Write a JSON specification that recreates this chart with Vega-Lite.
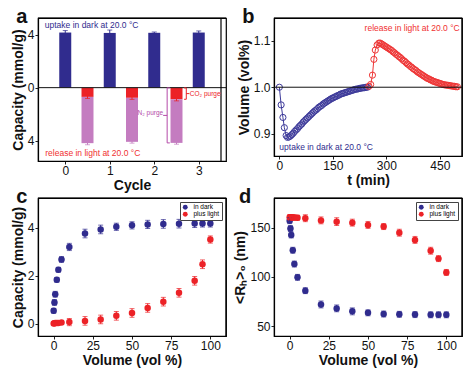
{
"$schema": "https://vega.github.io/schema/vega-lite/v6.json",
"background": "white",
"padding": {"left": 10, "top": 6, "right": 2, "bottom": 2},
"config": {
  "font": "Liberation Sans",
  "view": {"stroke": "#000", "strokeWidth": 1.2},
  "axis": {"grid": false, "domainColor": "#000", "domainWidth": 1.2, "tickColor": "#222", "tickSize": 3, "labelFontSize": 12, "labelColor": "#111", "titleFontSize": 14, "titleFontWeight": "bold", "titleColor": "#111", "labelPadding": 1, "titlePadding": 2},
  "title": {"fontSize": 20, "fontWeight": "bold", "anchor": "start", "frame": "bounds", "offset": -10, "baseline": "alphabetic", "dx": 5, "color": "#111"}
},
"datasets": {
  "one": [{}],
  "a_up": [
    {"cycle": 0, "cap": 4.17, "err": 0.15},
    {"cycle": 1, "cap": 4.14, "err": 0.22},
    {"cycle": 2, "cap": 4.15, "err": 0.06},
    {"cycle": 3, "cap": 4.17, "err": 0.12}
  ],
  "a_rel": [
    {"cycle": 0.5, "part": "CO2", "from": 0, "to": -0.7, "err": 0.12},
    {"cycle": 0.5, "part": "N2", "from": -0.7, "to": -4.2, "err": 0.12},
    {"cycle": 1.5, "part": "CO2", "from": 0, "to": -0.77, "err": 0.12},
    {"cycle": 1.5, "part": "N2", "from": -0.77, "to": -4.1, "err": 0.1},
    {"cycle": 2.5, "part": "CO2", "from": 0, "to": -0.88, "err": 0.12},
    {"cycle": 2.5, "part": "N2", "from": -0.88, "to": -4.18, "err": 0.1}
  ],
  "b": [
    {"s":"dark","t":0,"v":1.000},{"s":"dark","t":5,"v":0.962},{"s":"dark","t":10,"v":0.935},{"s":"dark","t":14,"v":0.913},{"s":"dark","t":19,"v":0.896},{"s":"dark","t":23,"v":0.892},{"s":"dark","t":27,"v":0.893},{"s":"dark","t":31,"v":0.895},{"s":"dark","t":35,"v":0.898},{"s":"dark","t":39,"v":0.901},{"s":"dark","t":43,"v":0.905},{"s":"dark","t":47,"v":0.908},{"s":"dark","t":51,"v":0.911},{"s":"dark","t":55,"v":0.915},{"s":"dark","t":59,"v":0.918},{"s":"dark","t":63,"v":0.921},{"s":"dark","t":67,"v":0.925},{"s":"dark","t":71,"v":0.928},{"s":"dark","t":75,"v":0.931},{"s":"dark","t":79,"v":0.934},{"s":"dark","t":83,"v":0.937},{"s":"dark","t":87,"v":0.940},{"s":"dark","t":91,"v":0.943},{"s":"dark","t":95,"v":0.946},{"s":"dark","t":99,"v":0.949},{"s":"dark","t":103,"v":0.951},{"s":"dark","t":107,"v":0.954},{"s":"dark","t":111,"v":0.957},{"s":"dark","t":115,"v":0.959},{"s":"dark","t":119,"v":0.961},{"s":"dark","t":123,"v":0.964},{"s":"dark","t":127,"v":0.966},{"s":"dark","t":131,"v":0.968},{"s":"dark","t":135,"v":0.970},{"s":"dark","t":139,"v":0.972},{"s":"dark","t":143,"v":0.974},{"s":"dark","t":147,"v":0.976},{"s":"dark","t":151,"v":0.977},{"s":"dark","t":155,"v":0.979},{"s":"dark","t":159,"v":0.980},{"s":"dark","t":163,"v":0.982},{"s":"dark","t":167,"v":0.983},{"s":"dark","t":171,"v":0.985},{"s":"dark","t":175,"v":0.986},{"s":"dark","t":179,"v":0.987},{"s":"dark","t":183,"v":0.988},{"s":"dark","t":187,"v":0.989},{"s":"dark","t":191,"v":0.990},{"s":"dark","t":195,"v":0.991},{"s":"dark","t":199,"v":0.992},{"s":"dark","t":203,"v":0.993},{"s":"dark","t":207,"v":0.994},{"s":"dark","t":211,"v":0.995},{"s":"dark","t":215,"v":0.996},{"s":"dark","t":219,"v":0.996},{"s":"dark","t":223,"v":0.997},{"s":"dark","t":227,"v":0.998},{"s":"dark","t":231,"v":0.998},{"s":"dark","t":235,"v":0.999},{"s":"dark","t":239,"v":0.999},{"s":"dark","t":243,"v":1.000},{"s":"dark","t":247,"v":1.000},
    {"s":"light","t":251,"v":1.002},{"s":"light","t":256,"v":1.006},{"s":"light","t":261,"v":1.026},{"s":"light","t":265,"v":1.060},{"s":"light","t":269,"v":1.080},{"s":"light","t":274,"v":1.091},{"s":"light","t":279,"v":1.095},{"s":"light","t":283,"v":1.095},{"s":"light","t":287,"v":1.093},{"s":"light","t":291,"v":1.091},{"s":"light","t":295,"v":1.089},{"s":"light","t":299,"v":1.087},{"s":"light","t":303,"v":1.085},{"s":"light","t":307,"v":1.083},{"s":"light","t":311,"v":1.081},{"s":"light","t":315,"v":1.079},{"s":"light","t":319,"v":1.076},{"s":"light","t":323,"v":1.074},{"s":"light","t":327,"v":1.071},{"s":"light","t":331,"v":1.069},{"s":"light","t":335,"v":1.066},{"s":"light","t":339,"v":1.064},{"s":"light","t":343,"v":1.061},{"s":"light","t":347,"v":1.058},{"s":"light","t":351,"v":1.056},{"s":"light","t":355,"v":1.053},{"s":"light","t":359,"v":1.050},{"s":"light","t":363,"v":1.048},{"s":"light","t":367,"v":1.045},{"s":"light","t":371,"v":1.043},{"s":"light","t":375,"v":1.040},{"s":"light","t":379,"v":1.038},{"s":"light","t":383,"v":1.036},{"s":"light","t":387,"v":1.033},{"s":"light","t":391,"v":1.031},{"s":"light","t":395,"v":1.029},{"s":"light","t":399,"v":1.027},{"s":"light","t":403,"v":1.025},{"s":"light","t":407,"v":1.023},{"s":"light","t":411,"v":1.021},{"s":"light","t":415,"v":1.019},{"s":"light","t":419,"v":1.018},{"s":"light","t":423,"v":1.016},{"s":"light","t":427,"v":1.015},{"s":"light","t":431,"v":1.013},{"s":"light","t":435,"v":1.012},{"s":"light","t":439,"v":1.011},{"s":"light","t":443,"v":1.010},{"s":"light","t":447,"v":1.009},{"s":"light","t":451,"v":1.008},{"s":"light","t":455,"v":1.007},{"s":"light","t":459,"v":1.006},{"s":"light","t":463,"v":1.005},{"s":"light","t":467,"v":1.005},{"s":"light","t":471,"v":1.004},{"s":"light","t":475,"v":1.004},{"s":"light","t":479,"v":1.003},{"s":"light","t":483,"v":1.003},{"s":"light","t":487,"v":1.002},{"s":"light","t":491,"v":1.002},{"s":"light","t":495,"v":1.001},{"s":"light","t":499,"v":1.001}
  ],
  "c": [
    {"s":"in dark","x":0,"y":0.53,"e":0.1},{"s":"in dark","x":0.5,"y":0.88,"e":0.12},{"s":"in dark","x":1,"y":1.22,"e":0.12},{"s":"in dark","x":2,"y":1.82,"e":0.1},{"s":"in dark","x":3,"y":2.24,"e":0.1},{"s":"in dark","x":5,"y":2.67,"e":0.12},{"s":"in dark","x":10,"y":3.19,"e":0.15},{"s":"in dark","x":20,"y":3.75,"e":0.18},{"s":"in dark","x":30,"y":3.92,"e":0.18},{"s":"in dark","x":40,"y":4.03,"e":0.15},{"s":"in dark","x":50,"y":4.09,"e":0.15},{"s":"in dark","x":60,"y":4.13,"e":0.17},{"s":"in dark","x":70,"y":4.15,"e":0.18},{"s":"in dark","x":80,"y":4.16,"e":0.18},{"s":"in dark","x":90,"y":4.17,"e":0.17},{"s":"in dark","x":95,"y":4.17,"e":0.15},{"s":"in dark","x":100,"y":4.17,"e":0.15},
    {"s":"plus light","x":0,"y":0.0,"e":0.05},{"s":"plus light","x":0.5,"y":0.01,"e":0.06},{"s":"plus light","x":1,"y":0.02,"e":0.06},{"s":"plus light","x":2,"y":0.02,"e":0.06},{"s":"plus light","x":3,"y":0.02,"e":0.06},{"s":"plus light","x":5,"y":0.04,"e":0.08},{"s":"plus light","x":10,"y":0.06,"e":0.15},{"s":"plus light","x":20,"y":0.11,"e":0.18},{"s":"plus light","x":30,"y":0.17,"e":0.18},{"s":"plus light","x":40,"y":0.32,"e":0.18},{"s":"plus light","x":50,"y":0.44,"e":0.18},{"s":"plus light","x":60,"y":0.65,"e":0.18},{"s":"plus light","x":70,"y":0.91,"e":0.18},{"s":"plus light","x":80,"y":1.28,"e":0.18},{"s":"plus light","x":90,"y":1.78,"e":0.18},{"s":"plus light","x":95,"y":2.47,"e":0.18},{"s":"plus light","x":100,"y":3.5,"e":0.15}
  ],
  "d": [
    {"s":"in dark","x":0,"y":157,"e":3},{"s":"in dark","x":0.5,"y":149,"e":3},{"s":"in dark","x":1,"y":142.5,"e":3},{"s":"in dark","x":2,"y":127,"e":3},{"s":"in dark","x":3,"y":113,"e":3},{"s":"in dark","x":5,"y":99.5,"e":3},{"s":"in dark","x":10,"y":86,"e":3},{"s":"in dark","x":20,"y":72,"e":3.5},{"s":"in dark","x":30,"y":68,"e":3.5},{"s":"in dark","x":40,"y":65,"e":3.5},{"s":"in dark","x":50,"y":63.5,"e":3},{"s":"in dark","x":60,"y":62.3,"e":3},{"s":"in dark","x":70,"y":62,"e":3},{"s":"in dark","x":80,"y":61.7,"e":3},{"s":"in dark","x":90,"y":61.5,"e":3},{"s":"in dark","x":95,"y":61.5,"e":3},{"s":"in dark","x":100,"y":61.5,"e":3},
    {"s":"plus light","x":0,"y":160.5,"e":2.5},{"s":"plus light","x":0.5,"y":160.5,"e":2.5},{"s":"plus light","x":1,"y":160.5,"e":2.5},{"s":"plus light","x":2,"y":160.3,"e":2.5},{"s":"plus light","x":3,"y":160.2,"e":2.5},{"s":"plus light","x":5,"y":160,"e":2.5},{"s":"plus light","x":10,"y":159.5,"e":3.5},{"s":"plus light","x":20,"y":157.3,"e":3.5},{"s":"plus light","x":30,"y":156,"e":4},{"s":"plus light","x":40,"y":155,"e":3.5},{"s":"plus light","x":50,"y":152.7,"e":3.5},{"s":"plus light","x":60,"y":151,"e":3},{"s":"plus light","x":70,"y":144.8,"e":3.5},{"s":"plus light","x":80,"y":137.5,"e":3.5},{"s":"plus light","x":90,"y":126.5,"e":3.5},{"s":"plus light","x":95,"y":118.5,"e":3},{"s":"plus light","x":100,"y":104.5,"e":3}
  ]
},
"columns": 2,
"bounds": "flush",
"spacing": {"row": 37, "column": 48},
"resolve": {"scale": {"color": "independent"}, "legend": {"color": "independent"}},
"concat": [
  {
    "width": 188, "height": 143,
    "title": {"text": "a"},
    "layer": [
      {"data": {"name": "a_up"}, "mark": {"type": "bar", "size": 12, "color": "#302c8e"},
       "encoding": {
         "x": {"field": "cycle", "type": "quantitative", "title": "Cycle", "scale": {"domain": [-0.5, 3.5], "nice": false, "zero": false},
               "axis": {"values": [0, 0.5, 1, 1.5, 2, 2.5, 3], "format": "d", "labelExpr": "datum.value % 1 === 0 ? datum.label : ''"}},
         "y": {"field": "cap", "type": "quantitative", "title": "Capacity  (mmol/g)", "scale": {"domain": [-5.55, 5.27], "nice": false, "zero": false},
               "axis": {"values": [-4, -2, 0, 2, 4], "labelExpr": "abs(datum.value)"}}
       }},
      {"data": {"name": "a_up"}, "mark": {"type": "errorbar", "ticks": {"size": 5}, "thickness": 1, "color": "#302c8e"},
       "encoding": {"x": {"field": "cycle", "type": "quantitative", "title": "Cycle"}, "y": {"field": "cap", "type": "quantitative", "title": "Capacity  (mmol/g)"}, "yError": {"field": "err"}}},
      {"data": {"name": "a_rel"}, "mark": {"type": "bar", "size": 12},
       "encoding": {
         "x": {"field": "cycle", "type": "quantitative", "title": "Cycle"},
         "y": {"field": "from", "type": "quantitative", "title": "Capacity  (mmol/g)"}, "y2": {"field": "to"},
         "color": {"field": "part", "type": "nominal", "scale": {"domain": ["CO2", "N2"], "range": ["#ec2227", "#c47cc0"]}, "legend": null}
       }},
      {"data": {"name": "a_rel"}, "mark": {"type": "errorbar", "ticks": {"size": 5}, "thickness": 1},
       "encoding": {"x": {"field": "cycle", "type": "quantitative", "title": "Cycle"}, "y": {"field": "to", "type": "quantitative", "title": "Capacity  (mmol/g)"}, "yError": {"field": "err"},
         "color": {"field": "part", "type": "nominal", "legend": null}}},
      {"data": {"name": "one"}, "mark": {"type": "rule", "color": "#111", "strokeWidth": 1}, "encoding": {"y": {"datum": 0}}},
      {"data": {"name": "one"}, "mark": {"type": "rule", "color": "#000", "strokeWidth": 1.2}, "encoding": {"y": {"datum": 5.27}}},
      {"data": {"name": "one"}, "mark": {"type": "rule", "color": "#000", "strokeWidth": 1.2}, "encoding": {"x": {"datum": 3.5}}},
      {"data": {"name": "one"}, "mark": {"type": "rule", "color": "#b44aa8", "strokeWidth": 1}, "encoding": {"x": {"datum": 2.29}, "y": {"datum": 0}, "y2": {"datum": -4.18}}},
      {"data": {"name": "one"}, "mark": {"type": "rule", "color": "#b44aa8", "strokeWidth": 1}, "encoding": {"x": {"datum": 2.29}, "x2": {"datum": 2.35}, "y": {"datum": -0.02}}},
      {"data": {"name": "one"}, "mark": {"type": "rule", "color": "#b44aa8", "strokeWidth": 1}, "encoding": {"x": {"datum": 2.29}, "x2": {"datum": 2.35}, "y": {"datum": -4.18}}},
      {"data": {"name": "one"}, "mark": {"type": "rule", "color": "#b44aa8", "strokeWidth": 1}, "encoding": {"x": {"datum": 2.2}, "x2": {"datum": 2.29}, "y": {"datum": -2.1}}},
      {"data": {"name": "one"}, "mark": {"type": "rule", "color": "#ec2227", "strokeWidth": 1}, "encoding": {"x": {"datum": 2.72}, "y": {"datum": -0.02}, "y2": {"datum": -0.88}}},
      {"data": {"name": "one"}, "mark": {"type": "rule", "color": "#ec2227", "strokeWidth": 1}, "encoding": {"x": {"datum": 2.67}, "x2": {"datum": 2.72}, "y": {"datum": -0.02}}},
      {"data": {"name": "one"}, "mark": {"type": "rule", "color": "#ec2227", "strokeWidth": 1}, "encoding": {"x": {"datum": 2.67}, "x2": {"datum": 2.72}, "y": {"datum": -0.88}}},
      {"data": {"name": "one"}, "mark": {"type": "rule", "color": "#ec2227", "strokeWidth": 1}, "encoding": {"x": {"datum": 2.72}, "x2": {"datum": 2.79}, "y": {"datum": -0.45}}},
      {"data": {"name": "one"}, "mark": {"type": "text", "align": "left", "baseline": "middle", "fontSize": 6.5, "color": "#ec2227"}, "encoding": {"x": {"datum": 2.8}, "y": {"datum": -0.45}, "text": {"value": "CO₂ purge"}}},
      {"data": {"name": "one"}, "mark": {"type": "text", "align": "right", "baseline": "middle", "fontSize": 6.5, "color": "#b44aa8"}, "encoding": {"x": {"datum": 2.2}, "y": {"datum": -1.95}, "text": {"value": "N₂ purge"}}},
      {"data": {"name": "one"}, "mark": {"type": "text", "align": "left", "baseline": "middle", "fontSize": 8.5, "color": "#302c8e"}, "encoding": {"x": {"datum": -0.46}, "y": {"datum": 4.73}, "text": {"value": "uptake in dark at 20.0 °C"}}},
      {"data": {"name": "one"}, "mark": {"type": "text", "align": "left", "baseline": "middle", "fontSize": 8.5, "color": "#f03030"}, "encoding": {"x": {"datum": -0.45}, "y": {"datum": -4.95}, "text": {"value": "release in light at 20.0 °C"}}}
    ]
  },
  {
    "width": 188, "height": 138,
    "title": {"text": "b"},
    "layer": [
      {"data": {"name": "b"}, "mark": {"type": "line", "strokeWidth": 1, "point": {"filled": false, "size": 38, "strokeWidth": 1}},
       "encoding": {
         "x": {"field": "t", "type": "quantitative", "title": "t  (min)", "scale": {"domain": [-15, 512], "nice": false, "zero": false},
               "axis": {"values": [0, 75, 150, 225, 300, 375, 450], "format": "d", "labelExpr": "datum.value % 150 === 0 ? datum.label : ''"}},
         "y": {"field": "v", "type": "quantitative", "title": "Volume  (vol%)", "scale": {"domain": [0.852, 1.149], "nice": false, "zero": false},
               "axis": {"values": [0.9, 1.0, 1.1], "format": ".1f"}},
         "color": {"field": "s", "type": "nominal", "scale": {"domain": ["dark", "light"], "range": ["#3d3a9a", "#ee3535"]}, "legend": null}
       }},
      {"data": {"name": "one"}, "mark": {"type": "rule", "color": "#111", "strokeWidth": 1}, "encoding": {"y": {"datum": 1.0}}},
      {"data": {"name": "one"}, "mark": {"type": "rule", "color": "#000", "strokeWidth": 1.2}, "encoding": {"y": {"datum": 1.149}}},
      {"data": {"name": "one"}, "mark": {"type": "rule", "color": "#000", "strokeWidth": 1.2}, "encoding": {"x": {"datum": 512}}},
      {"data": {"name": "one"}, "mark": {"type": "text", "align": "left", "baseline": "middle", "fontSize": 8.5, "color": "#f03030"}, "encoding": {"x": {"datum": 239}, "y": {"datum": 1.127}, "text": {"value": "release in light at 20.0 °C"}}},
      {"data": {"name": "one"}, "mark": {"type": "text", "align": "left", "baseline": "middle", "fontSize": 8.5, "color": "#302c8e"}, "encoding": {"x": {"datum": 0}, "y": {"datum": 0.8705}, "text": {"value": "uptake in dark at 20.0 °C"}}}
    ]
  },
  {
    "width": 188, "height": 138,
    "title": {"text": "c"},
    "layer": [
      {"data": {"name": "c"}, "mark": {"type": "point", "filled": true, "size": 42, "opacity": 1},
       "encoding": {
         "x": {"field": "x", "type": "quantitative", "title": "Volume  (vol %)", "scale": {"domain": [-10, 110], "nice": false, "zero": false},
               "axis": {"values": [0, 25, 50, 75, 100]}},
         "y": {"field": "y", "type": "quantitative", "title": "Capacity  (mmol/g)", "scale": {"domain": [-0.52, 5.23], "nice": false, "zero": false},
               "axis": {"values": [0, 1, 2, 3, 4, 5], "labelExpr": "datum.value % 2 === 0 ? datum.label : ''"}},
         "color": {"field": "s", "type": "nominal", "scale": {"domain": ["in dark", "plus light"], "range": ["#302c8e", "#ec2227"]},
                   "legend": {"title": null, "orient": "top-right", "offset": 4, "strokeColor": "#444", "fillColor": "white", "padding": 2, "labelFontSize": 6.5, "symbolSize": 24, "symbolType": "circle", "rowPadding": 0, "labelOffset": 5, "symbolStrokeWidth": 0,
                              "encode": {"labels": {"update": {"fill": {"signal": "datum.value === 'in dark' ? '#302c8e' : '#ec2227'"}}}}}}
       }},
      {"data": {"name": "c"}, "mark": {"type": "errorbar", "ticks": {"size": 5}, "thickness": 1},
       "encoding": {"x": {"field": "x", "type": "quantitative", "title": "Volume  (vol %)"}, "y": {"field": "y", "type": "quantitative", "title": "Capacity  (mmol/g)"}, "yError": {"field": "e"},
                    "color": {"field": "s", "type": "nominal"}}},
      {"data": {"name": "one"}, "mark": {"type": "rule", "color": "#000", "strokeWidth": 1.2}, "encoding": {"y": {"datum": 5.23}}},
      {"data": {"name": "one"}, "mark": {"type": "rule", "color": "#000", "strokeWidth": 1.2}, "encoding": {"x": {"datum": 110}}}
    ]
  },
  {
    "width": 188, "height": 138,
    "title": {"text": "d"},
    "layer": [
      {"data": {"name": "d"}, "mark": {"type": "point", "filled": true, "size": 42, "opacity": 1},
       "encoding": {
         "x": {"field": "x", "type": "quantitative", "title": "Volume  (vol %)", "scale": {"domain": [-10, 110], "nice": false, "zero": false},
               "axis": {"values": [0, 25, 50, 75, 100]}},
         "y": {"field": "y", "type": "quantitative", "title": "<Rₕ>₀ (nm)", "scale": {"domain": [40, 180], "nice": false, "zero": false},
               "axis": {"values": [50, 75, 100, 125, 150, 175], "labelExpr": "datum.value % 50 === 0 ? datum.label : ''"}},
         "color": {"field": "s", "type": "nominal", "scale": {"domain": ["in dark", "plus light"], "range": ["#302c8e", "#ec2227"]},
                   "legend": {"title": null, "orient": "top-right", "offset": 4, "strokeColor": "#444", "fillColor": "white", "padding": 2, "labelFontSize": 6.5, "symbolSize": 24, "symbolType": "circle", "rowPadding": 0, "labelOffset": 5, "symbolStrokeWidth": 0,
                              "encode": {"labels": {"update": {"fill": {"signal": "datum.value === 'in dark' ? '#302c8e' : '#ec2227'"}}}}}}
       }},
      {"data": {"name": "d"}, "mark": {"type": "errorbar", "ticks": {"size": 5}, "thickness": 1},
       "encoding": {"x": {"field": "x", "type": "quantitative", "title": "Volume  (vol %)"}, "y": {"field": "y", "type": "quantitative", "title": "<Rₕ>₀ (nm)"}, "yError": {"field": "e"},
                    "color": {"field": "s", "type": "nominal"}}},
      {"data": {"name": "one"}, "mark": {"type": "rule", "color": "#000", "strokeWidth": 1.2}, "encoding": {"y": {"datum": 180}}},
      {"data": {"name": "one"}, "mark": {"type": "rule", "color": "#000", "strokeWidth": 1.2}, "encoding": {"x": {"datum": 110}}}
    ]
  }
]
}
